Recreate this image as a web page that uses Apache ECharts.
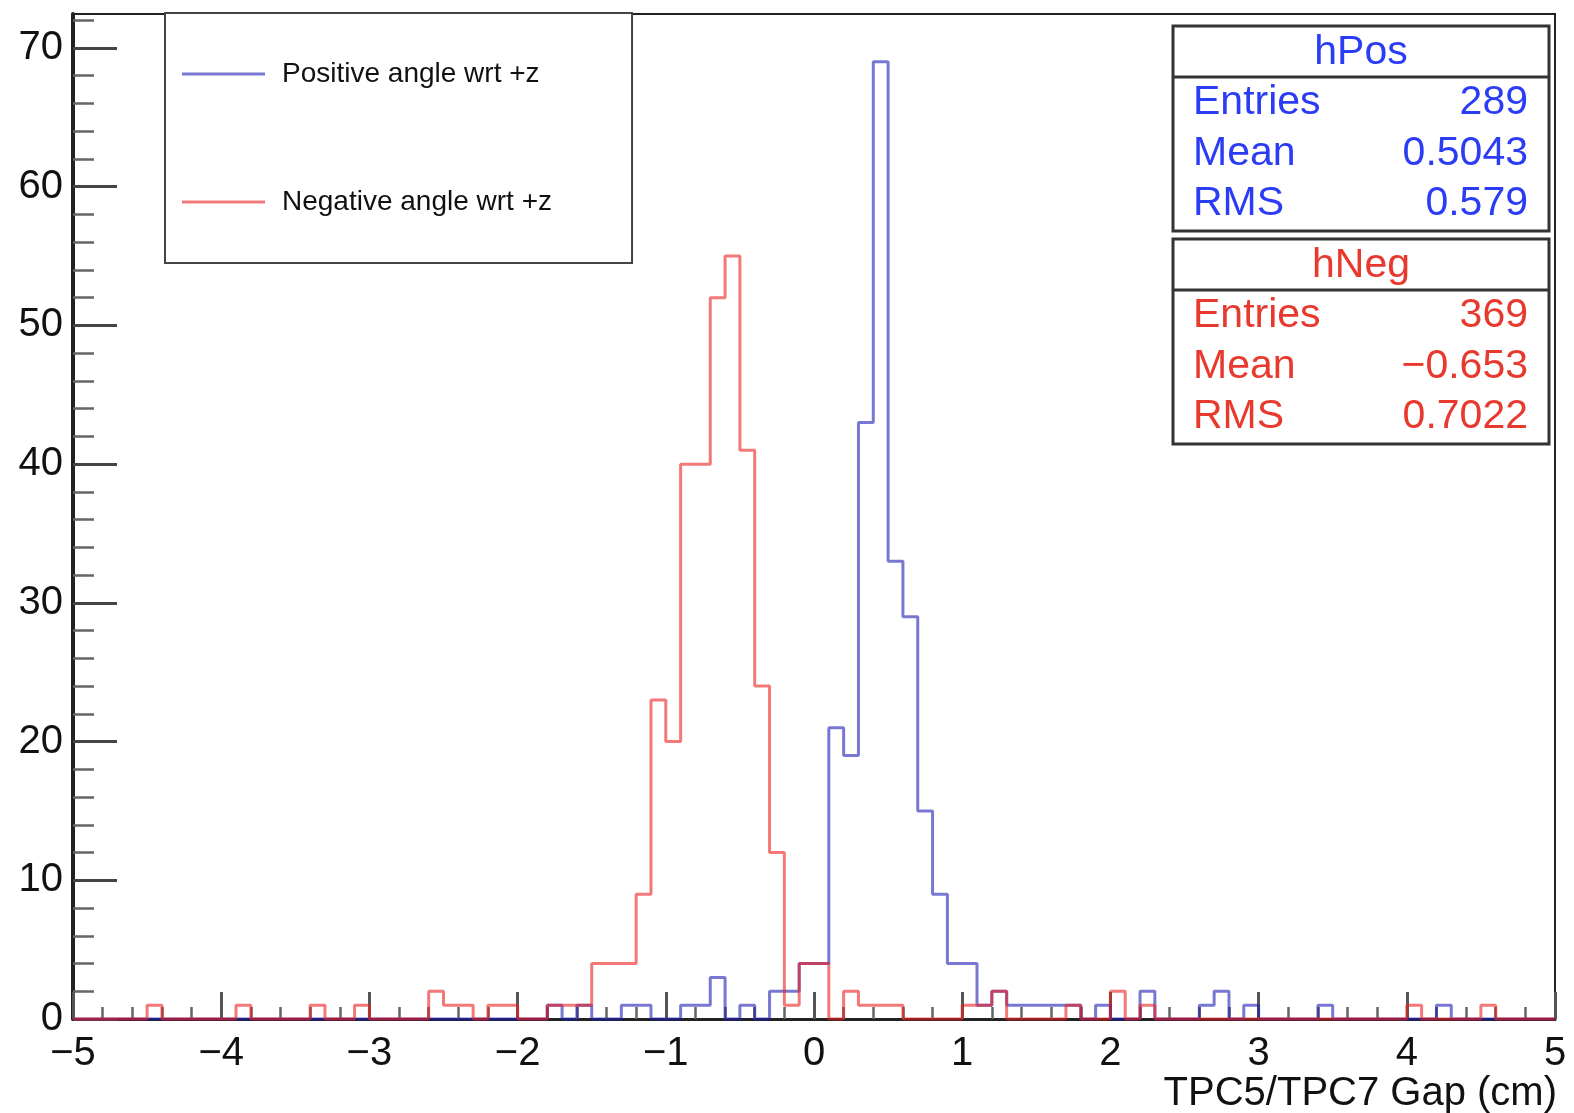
<!DOCTYPE html>
<html>
<head>
<meta charset="utf-8">
<script src="https://cdn.jsdelivr.net/npm/echarts@6/dist/echarts.min.js"></script>
<style>
html,body{margin:0;padding:0;background:#fff;}
#chart{width:1574px;height:1113px;}
</style>
</head>
<body>
<div id="chart"></div>
<script>
// ---- data ----
const xMin = -5, xMax = 5, binWidth = 0.1;
// hPos: 100 bins from -5 to 5
const posCounts = [
  0,0,0,0,0,0,0,0,0,0,
  0,0,0,0,0,0,0,0,0,0,
  0,0,0,0,0,0,0,0,0,0,
  0,0,1,0,1,0,0,1,1,0,
  0,1,1,3,0,1,0,2,2,4,
  4,21,19,43,69,33,29,15,9,4,
  4,1,2,1,1,1,1,1,0,1,
  0,0,2,0,0,0,1,2,0,1,
  0,0,0,0,1,0,0,0,0,0,
  0,0,1,0,0,0,0,0,0,0
];
// hNeg: 100 bins from -5 to 5
const negCounts = [
  0,0,0,0,0,1,0,0,0,0,
  0,1,0,0,0,0,1,0,0,1,
  0,0,0,0,2,1,1,0,1,1,
  0,0,1,1,1,4,4,4,9,23,
  20,40,40,52,55,41,24,12,1,4,
  4,0,2,1,1,1,0,0,0,0,
  1,1,2,0,0,0,0,1,0,0,
  2,0,1,0,0,0,0,0,0,0,
  0,0,0,0,0,0,0,0,0,0,
  1,0,0,0,0,1,0,0,0,0
];
const seriesNames = ['Positive angle wrt +z', 'Negative angle wrt +z'];
const yMajorTicks = [0, 10, 20, 30, 40, 50, 60, 70];
const yMinorTicks = [2,4,6,8,12,14,16,18,22,24,26,28,32,34,36,38,42,44,46,48,52,54,56,58,62,64,66,68,72];
const yMax = 72.45;
const xTitle = 'TPC5/TPC7 Gap (cm)';
const statNames = ['hPos', 'hNeg'];
const statLabels = ['Entries', 'Mean', 'RMS'];
const posStats = ['289', '0.5043', '0.579'];
const negStats = ['369', '\u22120.653', '0.7022'];

// ---- styles ----
const FONT = '"Liberation Sans", Arial, Helvetica, sans-serif';
const blueLine = 'rgba(30,30,180,0.6)';
const redLine = 'rgba(235,30,30,0.6)';
const blueText = '#2b3cf5';
const redText = '#e8392e';

function toSteps(counts) {
  const d = counts.map((v, i) => [+(xMin + i * binWidth).toFixed(2), v]);
  d.push([xMax, counts[counts.length - 1]]);
  return d;
}

function statsBox(top, name, values, color) {
  const left = 1173, width = 376, height = 205;
  const els = [
    { type: 'rect', shape: { x: left, y: top, width: width, height: height },
      style: { fill: '#fff', stroke: '#333', lineWidth: 3 }, z: 10 },
    { type: 'line', shape: { x1: left, y1: top + 51, x2: left + width, y2: top + 51 },
      style: { stroke: '#333', lineWidth: 3 }, z: 11 },
    { type: 'text', z: 12, style: { text: name, x: left + width / 2, y: top + 27,
      align: 'center', verticalAlign: 'middle', fill: color, font: '41px ' + FONT } }
  ];
  const rowY = [77, 127.5, 178];
  statLabels.forEach((lab, k) => {
    els.push({ type: 'text', z: 12, style: { text: lab, x: left + 20, y: top + rowY[k],
      align: 'left', verticalAlign: 'middle', fill: color, font: '41px ' + FONT } });
    els.push({ type: 'text', z: 12, style: { text: values[k], x: left + width - 21, y: top + rowY[k],
      align: 'right', verticalAlign: 'middle', fill: color, font: '41px ' + FONT } });
  });
  return els;
}

const chart = echarts.init(document.getElementById('chart'), null, { renderer: 'canvas' });

const option = {
  animation: false,
  backgroundColor: '#fff',
  textStyle: { fontFamily: FONT },
  title: {
    text: xTitle, right: 17, top: 1074, padding: 0,
    textStyle: { fontSize: 40, fontWeight: 'normal', color: '#111', fontFamily: FONT }
  },
  grid: { left: 73, right: 19, top: 14, bottom: 94, show: true, containLabel: false,
          outerBoundsMode: 'none',
          borderColor: '#222', borderWidth: 2, backgroundColor: 'transparent' },
  xAxis: {
    type: 'value', min: xMin, max: xMax, interval: 1,
    axisLine: { show: true, onZero: false, lineStyle: { color: '#222', width: 3 } },
    axisTick: { show: true, inside: true, length: 27, lineStyle: { color: '#555', width: 3 } },
    minorTick: { show: true, splitNumber: 5, length: 12, lineStyle: { color: '#666', width: 2.5 } },
    axisLabel: { fontSize: 40, color: '#111', fontFamily: FONT, margin: 15,
                 formatter: v => String(v).replace('-', '\u2212') },
    splitLine: { show: false }, minorSplitLine: { show: false }
  },
  yAxis: [
    {
      type: 'value', min: 0, max: yMax, position: 'left',
      axisLine: { show: true, onZero: false, lineStyle: { color: '#222', width: 4 } },
      axisTick: { show: true, inside: true, length: 44, customValues: yMajorTicks,
                  lineStyle: { color: '#444', width: 3 } },
      axisLabel: { fontSize: 40, color: '#111', fontFamily: FONT, margin: 10, customValues: yMajorTicks },
      splitLine: { show: false }
    },
    {
      type: 'value', min: 0, max: yMax, position: 'left',
      axisLine: { show: false, onZero: false },
      axisTick: { show: true, inside: true, length: 21, customValues: yMinorTicks,
                  lineStyle: { color: '#666', width: 2.5 } },
      axisLabel: { show: false },
      splitLine: { show: false }
    }
  ],
  legend: {
    orient: 'vertical', left: 165, top: 13,
    data: seriesNames,
    icon: 'rect', itemWidth: 83, itemHeight: 3, itemGap: 100,
    padding: [47, 80, 47, 17],
    borderColor: '#444', borderWidth: 2, borderRadius: 0, backgroundColor: '#fff',
    selectedMode: false,
    textStyle: { fontSize: 28, color: '#111', fontFamily: FONT, lineHeight: 28, padding: [0, 0, 0, 12] }
  },
  series: [
    {
      name: seriesNames[0], type: 'line', step: 'end', symbol: 'none', clip: false,
      xAxisIndex: 0, yAxisIndex: 0,
      lineStyle: { color: blueLine, width: 3 }, itemStyle: { color: blueLine },
      data: toSteps(posCounts)
    },
    {
      name: seriesNames[1], type: 'line', step: 'end', symbol: 'none', clip: false,
      xAxisIndex: 0, yAxisIndex: 0,
      lineStyle: { color: redLine, width: 3 }, itemStyle: { color: redLine },
      data: toSteps(negCounts)
    }
  ],
  graphic: [].concat(
    statsBox(26, statNames[0], posStats, blueText),
    statsBox(239, statNames[1], negStats, redText)
  )
};
chart.setOption(option);
</script>
</body>
</html>
